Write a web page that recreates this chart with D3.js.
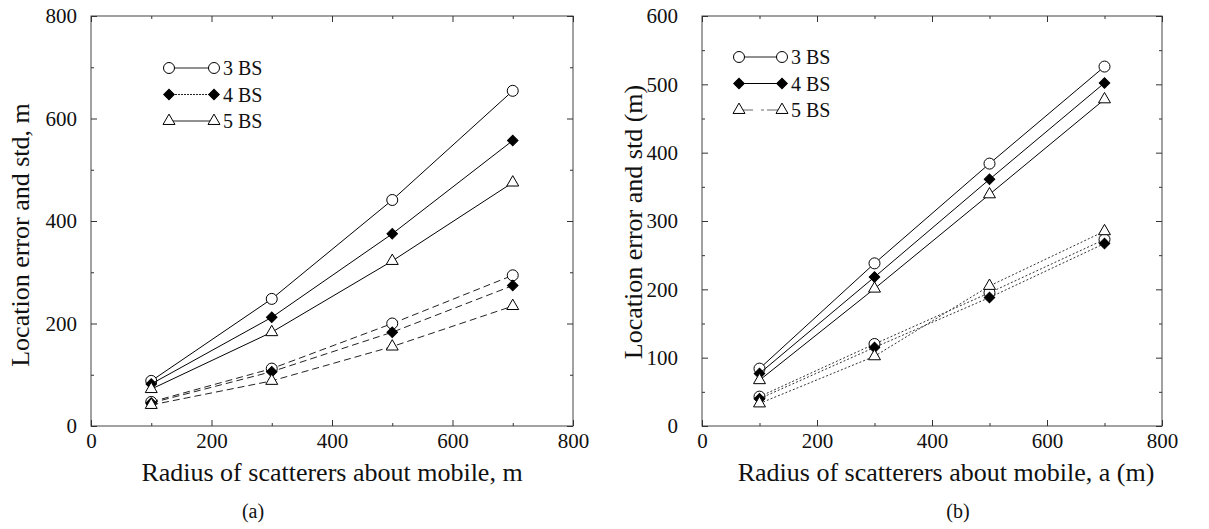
<!DOCTYPE html>
<head>
    <title>Location error vs scatterer radius</title>
    <script src="https://cdn.jsdelivr.net/npm/d3@7"></script>
    <style>
      body { margin: 0; background: #fff; }
      text { font-family: "Liberation Serif", "Times New Roman", serif; fill: #111; }
    </style>
</head>
<body>
<div id="container"></div>

<script>

// Données
const radius = [100, 300, 500, 700];
const seriesNames = ["3 BS", "4 BS", "5 BS"];

// (a) erreur (trait plein) et écart-type (tirets)
const aError3 = [88, 248, 441, 654];
const aError4 = [82, 212, 375, 557];
const aError5 = [72, 183, 322, 475];
const aStd3 = [47, 112, 200, 294];
const aStd4 = [45, 106, 183, 274];
const aStd5 = [41, 88, 155, 234];

// (b) erreur (trait plein) et écart-type (pointillés)
const bError3 = [84, 238, 384, 526];
const bError4 = [77, 218, 361, 502];
const bError5 = [67, 201, 339, 478];
const bStd3 = [43, 120, 195, 273];
const bStd4 = [40, 115, 188, 267];
const bStd5 = [33, 102, 205, 285];

const xTicks = [0, 200, 400, 600, 800];
const aYTicks = [0, 200, 400, 600, 800];
const bYTicks = [0, 100, 200, 300, 400, 500, 600];

const svg = d3.select("#container")
  .append("svg")
  .attr("width", 1209)
  .attr("height", 529);

// Marqueurs
const markers = [
  {type: d3.symbolCircle, size: 95, fill: "#fff", rot: 0},
  {type: d3.symbolSquare, size: 56, fill: "#000", rot: 45},
  {type: d3.symbolTriangle, size: 62, fill: "#fff", rot: 0}
];

function drawPanel(p) {
  const x = d3.scaleLinear().domain([0, 800]).range([p.left, p.right]);
  const y = d3.scaleLinear().domain([0, p.yMax]).range([426, 16]);
  const g = svg.append("g");

  // Cadre
  g.append("rect")
    .attr("x", p.left).attr("y", 16)
    .attr("width", p.right - p.left).attr("height", 410)
    .attr("fill", "none").attr("stroke", "#444").attr("stroke-width", 1);

  // Axes : graduations vers l'intérieur
  const xMinor = d3.range(100, 800, 200);
  const yMinor = d3.range(p.yMinorStep, p.yMax, p.yMinorStep * 2);

  const styleAxis = sel => {
    sel.select(".domain").remove();
    sel.selectAll("line").attr("stroke", "#333");
    sel.selectAll("text")
      .style("font-family", "Liberation Serif, serif")
      .style("font-size", "21px")
      .attr("fill", "#111");
  };

  g.append("g").attr("transform", `translate(0,426)`)
    .call(d3.axisBottom(x).tickValues(xTicks).tickSize(-6).tickPadding(7))
    .call(styleAxis);
  g.append("g").attr("transform", `translate(0,426)`)
    .call(d3.axisBottom(x).tickValues(xMinor).tickSize(-3).tickFormat(""))
    .call(styleAxis);
  g.append("g").attr("transform", `translate(0,16)`)
    .call(d3.axisTop(x).tickValues(xTicks).tickSize(-6).tickFormat(""))
    .call(styleAxis);
  g.append("g").attr("transform", `translate(0,16)`)
    .call(d3.axisTop(x).tickValues(xMinor).tickSize(-3).tickFormat(""))
    .call(styleAxis);

  g.append("g").attr("transform", `translate(${p.left},0)`)
    .call(d3.axisLeft(y).tickValues(p.yTicks).tickSize(-6).tickPadding(p.yPad))
    .call(styleAxis);
  g.append("g").attr("transform", `translate(${p.left},0)`)
    .call(d3.axisLeft(y).tickValues(yMinor).tickSize(-3).tickFormat(""))
    .call(styleAxis);
  g.append("g").attr("transform", `translate(${p.right},0)`)
    .call(d3.axisRight(y).tickValues(p.yTicks).tickSize(-6).tickFormat(""))
    .call(styleAxis);
  g.append("g").attr("transform", `translate(${p.right},0)`)
    .call(d3.axisRight(y).tickValues(yMinor).tickSize(-3).tickFormat(""))
    .call(styleAxis);

  const line = d3.line().x((d, i) => x(radius[i])).y(d => y(d));

  // Courbes
  const drawSeries = (values, k, dash, stroke, width) => {
    g.append("path")
      .attr("d", line(values))
      .attr("fill", "none")
      .attr("stroke", stroke)
      .attr("stroke-width", width)
      .attr("stroke-dasharray", dash);
    g.selectAll(null)
      .data(values)
      .enter().append("path")
      .attr("d", d3.symbol().type(markers[k].type).size(markers[k].size))
      .attr("transform", (d, i) => `translate(${x(radius[i])},${y(d)}) rotate(${markers[k].rot})`)
      .attr("fill", markers[k].fill)
      .attr("stroke", "#000")
      .attr("stroke-width", 1);
  };

  p.std.forEach((v, k) => drawSeries(v, k, p.stdDash, p.stdStroke, 1));
  p.err.forEach((v, k) => drawSeries(v, k, null, "#000", 1));

  // Légende
  seriesNames.forEach((name, k) => {
    const ly = p.legY + k * p.legStep;
    g.append("line")
      .attr("x1", p.legX1).attr("x2", p.legX2)
      .attr("y1", ly).attr("y2", ly)
      .attr("stroke", p.legStroke[k])
      .attr("stroke-width", 1)
      .attr("stroke-dasharray", p.legDash[k]);
    [p.legX1, p.legX2].forEach(lx => {
      g.append("path")
        .attr("d", d3.symbol().type(markers[k].type).size(markers[k].size))
        .attr("transform", `translate(${lx},${ly}) rotate(${markers[k].rot})`)
        .attr("fill", markers[k].fill)
        .attr("stroke", "#000");
    });
    g.append("text")
      .attr("x", p.legX2 + 9).attr("y", ly + 7)
      .style("font-size", "20px")
      .text(name);
  });

  // Titres des axes
  g.append("text")
    .attr("x", (p.left + p.right) / 2 + p.xTitleShift).attr("y", 481)
    .attr("text-anchor", "middle")
    .style("font-size", "26px")
    .text(p.xTitle);
  g.append("text")
    .attr("transform", `translate(${p.yTitleX},${p.yTitleY}) rotate(-90)`)
    .attr("text-anchor", "middle")
    .style("font-size", "26px")
    .text(p.yTitle);
  g.append("text")
    .attr("x", p.capX).attr("y", 518)
    .attr("text-anchor", "middle")
    .style("font-size", "20px")
    .text(p.caption);
}

drawPanel({
  left: 91, right: 573, yMax: 800, yTicks: aYTicks, yMinorStep: 100, yPad: 14,
  err: [aError3, aError4, aError5], std: [aStd3, aStd4, aStd5],
  stdDash: "7,4", stdStroke: "#222",
  legX1: 169, legX2: 214, legY: 68, legStep: 26.5,
  legStroke: ["#222", "#222", "#222"], legDash: [null, "2,1", null],
  xTitle: "Radius of scatterers about mobile, m", xTitleShift: 0,
  yTitle: "Location error and std, m", yTitleX: 29, yTitleY: 235,
  caption: "(a)", capX: 253
});

drawPanel({
  left: 702, right: 1162, yMax: 600, yTicks: bYTicks, yMinorStep: 50, yPad: 24,
  err: [bError3, bError4, bError5], std: [bStd3, bStd4, bStd5],
  stdDash: "2,2", stdStroke: "#333",
  legX1: 739, legX2: 782, legY: 57, legStep: 26.5,
  legStroke: ["#222", "#000", "#666"], legDash: [null, null, "14,8,3,3"],
  xTitle: "Radius of scatterers about mobile, a (m)", xTitleShift: 14,
  yTitle: "Location error and std (m)", yTitleX: 642, yTitleY: 222,
  caption: "(b)", capX: 958
});

</script>

</body>
